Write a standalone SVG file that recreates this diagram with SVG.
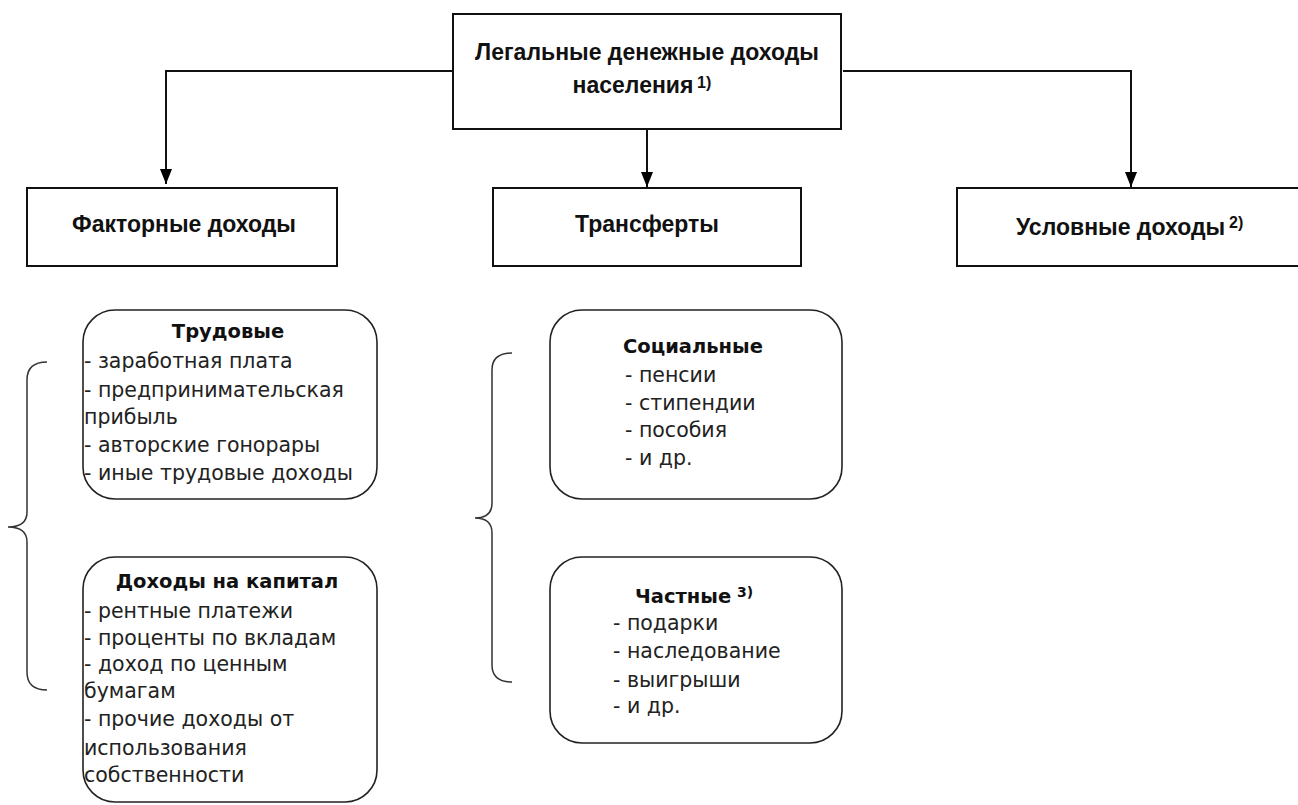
<svg xmlns="http://www.w3.org/2000/svg" width="1298" height="805" viewBox="0 0 1298 805">
<defs>
<marker id="arr" markerWidth="16" markerHeight="12" refX="15" refY="6" orient="auto" markerUnits="userSpaceOnUse" viewBox="0 0 16 12">
<path d="M0,0 L15,6 L0,12 Z" fill="#000"/>
</marker>
<style>
.box{fill:#fff;stroke:#111;stroke-width:2}
.rbox{fill:#fff;stroke:#222;stroke-width:1.6}
.conn{fill:none;stroke:#111;stroke-width:2}
.brace{fill:none;stroke:#333;stroke-width:1.5}
.hb{font-family:"Liberation Sans",Arial,sans-serif;font-weight:bold;font-size:23px;fill:#111}
.sup{font-family:"Liberation Sans",Arial,sans-serif;font-weight:bold;font-size:16px;fill:#111}
.t{font-family:"DejaVu Sans",Verdana,sans-serif;font-size:20.5px;fill:#222}
.tb{font-family:"DejaVu Sans",Verdana,sans-serif;font-weight:bold;font-size:19.5px;fill:#111}
.supr{font-family:"DejaVu Sans",Verdana,sans-serif;font-weight:bold;font-size:14px;fill:#111}
</style>
</defs>
<rect width="1298" height="805" fill="#fff"/>
<g id="connectors">
<path class="conn" d="M453,71 H166 V184" marker-end="url(#arr)"/>
<path class="conn" d="M647,130 V187" marker-end="url(#arr)"/>
<path class="conn" d="M843,71 H1131 V187" marker-end="url(#arr)"/>
</g>
<g id="root">
<rect class="box" x="453" y="14" width="388" height="115"/>
<text class="hb" x="647" y="60" text-anchor="middle">Легальные денежные доходы</text>
<text class="hb" x="633" y="93" text-anchor="middle">населения</text>
<text class="sup" x="697" y="88">1)</text>
</g>
<g id="factor">
<rect class="box" x="27" y="188" width="310" height="78"/>
<text class="hb" x="184" y="232" text-anchor="middle">Факторные доходы</text>
</g>
<g id="transfer">
<rect class="box" x="493" y="188" width="308" height="78"/>
<text class="hb" x="647" y="232" text-anchor="middle">Трансферты</text>
</g>
<g id="conditional">
<rect class="box" x="957" y="188" width="345" height="78"/>
<text class="hb" x="1016" y="235">Условные доходы</text>
<text class="sup" x="1229" y="228">2)</text>
</g>
<g id="brace-left">
<path class="brace" d="M47,362 Q27,362 27,380 L27,512 Q27,527 8,527 Q27,527 27,542 L27,672 Q27,690 47,690"/>
</g>
<g id="labor">
<rect class="rbox" x="83" y="310" width="294" height="189" rx="32" ry="32"/>
<text class="tb" x="228" y="338" text-anchor="middle">Трудовые</text>
<text class="t" x="84" y="368">- заработная плата</text>
<text class="t" x="84" y="397">- предпринимательская</text>
<text class="t" x="84" y="424">прибыль</text>
<text class="t" x="84" y="452">- авторские гонорары</text>
<text class="t" x="84" y="480">- иные трудовые доходы</text>
</g>
<g id="capital">
<rect class="rbox" x="83" y="557" width="294" height="245" rx="32" ry="32"/>
<text class="tb" x="227" y="588" text-anchor="middle">Доходы на капитал</text>
<text class="t" x="84" y="618">- рентные платежи</text>
<text class="t" x="84" y="645">- проценты по вкладам</text>
<text class="t" x="84" y="671">- доход по ценным</text>
<text class="t" x="84" y="698">бумагам</text>
<text class="t" x="84" y="726">- прочие доходы от</text>
<text class="t" x="84" y="755">использования</text>
<text class="t" x="84" y="782">собственности</text>
</g>
<g id="brace-mid">
<path class="brace" d="M512,353 Q492,353 492,370 L492,503 Q492,518 475,518 Q492,518 492,533 L492,665 Q492,682 512,682"/>
</g>
<g id="social">
<rect class="rbox" x="550" y="310" width="292" height="189" rx="32" ry="32"/>
<text class="tb" x="623" y="353">Социальные</text>
<text class="t" x="625" y="382">- пенсии</text>
<text class="t" x="625" y="410">- стипендии</text>
<text class="t" x="625" y="437">- пособия</text>
<text class="t" x="625" y="465">- и др.</text>
</g>
<g id="private">
<rect class="rbox" x="550" y="557" width="292" height="186" rx="32" ry="32"/>
<text class="tb" x="635" y="603">Частные</text>
<text class="supr" x="737" y="597">3)</text>
<text class="t" x="613" y="630">- подарки</text>
<text class="t" x="613" y="658">- наследование</text>
<text class="t" x="613" y="687">- выигрыши</text>
<text class="t" x="613" y="713">- и др.</text>
</g>
</svg>
